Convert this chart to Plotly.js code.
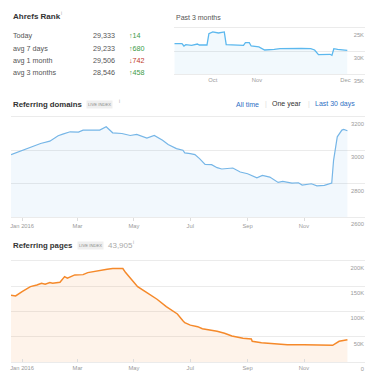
<!DOCTYPE html>
<html><head><meta charset="utf-8">
<script src="https://cdn.plot.ly/plotly-3.0.1.min.js"></script>
<style>html,body{margin:0;padding:0;background:#fff;}#chart{width:374px;height:379px;}</style>
</head><body><div id="chart"></div>
<script>
// ---------- DATA ----------
const rankLabels = ['Today', 'avg 7 days', 'avg 1 month', 'avg 3 months'];
const rankStats = ['29,333', '29,233', '29,506', '28,546'];
const rankChanges = ['14', '680', '742', '458'];
const rankChangeDir = ['up', 'up', 'down', 'up'];

const rankDates = ['2016-09-18','2016-09-22','2016-09-23','2016-09-24','2016-09-27','2016-09-30','2016-10-01','2016-10-05','2016-10-06','2016-10-08','2016-10-11','2016-10-14','2016-10-15','2016-10-19','2016-10-24','2016-10-25','2016-10-27','2016-10-28','2016-11-01','2016-11-04','2016-11-07','2016-11-09','2016-11-12','2016-11-18','2016-11-23','2016-11-28','2016-11-30','2016-12-02','2016-12-05','2016-12-08','2016-12-09','2016-12-10','2016-12-12','2016-12-17'];
const rankValues = [28390,28390,28890,28600,28740,28460,28670,28670,26230,25860,26080,25860,28600,28600,28740,28170,28170,28890,29100,29750,29750,29600,29470,29390,29390,29470,29750,30760,30760,30680,30900,29470,29600,29820];
const rankTickVals = ['2016-10-08', '2016-10-31', '2016-12-16'];
const rankTickText = ['Oct', 'Nov', 'Dec'];
const rankYTicks = [25000, 30000, 35000];
const rankYText = ['25K', '30K', '35K'];

const domainDates = ['2015-12-20','2015-12-30','2016-01-10','2016-01-21','2016-01-31','2016-02-09','2016-02-14','2016-02-22','2016-03-02','2016-03-07','2016-03-14','2016-03-25','2016-04-01','2016-04-08','2016-04-18','2016-04-27','2016-05-04','2016-05-15','2016-05-23','2016-06-01','2016-06-07','2016-06-16','2016-06-23','2016-06-25','2016-07-01','2016-07-06','2016-07-11','2016-07-17','2016-07-24','2016-07-30','2016-08-04','2016-08-10','2016-08-16','2016-08-24','2016-09-01','2016-09-11','2016-09-17','2016-09-25','2016-10-04','2016-10-09','2016-10-19','2016-10-26','2016-10-30','2016-11-09','2016-11-15','2016-11-23','2016-12-01','2016-12-03','2016-12-07','2016-12-12','2016-12-14','2016-12-18'];
const domainValues = [2974,2996,3016,3040,3054,3086,3096,3110,3108,3120,3120,3120,3140,3104,3100,3088,3094,3072,3088,3060,3034,3010,3000,2984,2980,2974,2950,2916,2914,2896,2888,2890,2894,2870,2860,2836,2850,2840,2808,2814,2804,2806,2792,2800,2788,2790,2804,2940,3080,3120,3124,3116];
const domainYTicks = [2600, 2800, 3000, 3200];
const domainYText = ['2600', '2800', '3000', '3200'];

const pageDates = ['2015-12-20','2015-12-25','2016-01-01','2016-01-10','2016-01-17','2016-01-22','2016-01-26','2016-01-31','2016-02-03','2016-02-11','2016-02-16','2016-02-19','2016-02-27','2016-03-07','2016-03-12','2016-03-22','2016-04-02','2016-04-08','2016-04-19','2016-04-22','2016-04-27','2016-04-30','2016-05-05','2016-05-15','2016-05-26','2016-06-05','2016-06-12','2016-06-17','2016-06-23','2016-06-25','2016-07-01','2016-07-09','2016-07-14','2016-07-24','2016-07-30','2016-08-07','2016-08-15','2016-08-27','2016-09-05','2016-09-06','2016-09-16','2016-09-30','2016-10-14','2016-11-01','2016-11-16','2016-12-02','2016-12-09','2016-12-18'];
const pageValues = [131800,130400,139000,148800,152000,155500,153500,156800,155500,157500,168600,165400,171900,172500,176500,180400,183200,184400,184400,176500,165400,158700,148800,136900,123900,109300,100800,94800,81600,77700,72800,69800,65800,63200,60600,56700,51400,46800,45400,40900,38200,36200,34200,34200,33000,33000,40900,43905];
const pageYTicks = [0, 50000, 100000, 150000, 200000];
const pageYText = ['0', '50K', '100K', '150K', '200K'];
const pagesTotal = '43,905';

const yearTickVals = ['2016-01-01','2016-03-01','2016-05-01','2016-07-01','2016-09-01','2016-11-01'];
const yearTickText = ['Jan 2016','Mar','May','Jul','Sep','Nov'];

// ---------- LAYOUT HELPERS ----------
const W = 374, H = 379;
const FONT = 'Liberation Sans, Arial, Helvetica, sans-serif';
const fx = p => p / W;
const fy = p => 1 - p / H;
const GRID = '#ebebeb';
const TICKFONT = {family: FONT, size: 5.8, color: '#9a9a9a'};

function ann(text, px, py, opts) {
  return Object.assign({
    text: text, x: fx(px), y: fy(py), xref: 'paper', yref: 'paper',
    xanchor: 'left', yanchor: 'middle', showarrow: false,
    font: {family: FONT, size: 7.2, color: '#555'}
  }, opts || {});
}

const annotations = [];
annotations.push(ann('<b>Ahrefs Rank</b>', 11, 17, {font: {family: FONT, size: 8, color: '#333'}}));
annotations.push(ann('i', 59, 13.5, {font: {family: FONT, size: 4.5, color: '#aaa'}}));
const rowY = [35.7, 48, 60.3, 72.3];
rankLabels.forEach((l, i) => {
  annotations.push(ann(l, 10.5, rowY[i]));
  annotations.push(ann(rankStats[i], 116.5, rowY[i], {xanchor: 'right'}));
  const up = rankChangeDir[i] === 'up';
  annotations.push(ann((up ? '\u2191' : '\u2193') + rankChanges[i], 127, rowY[i],
    {font: {family: FONT, size: 7.2, color: up ? '#3d9b47' : '#c0392b'}}));
});
annotations.push(ann('Past 3 months', 174, 17.3, {font: {family: FONT, size: 7, color: '#555'}}));

annotations.push(ann('<b>Referring domains</b>', 10.5, 104, {font: {family: FONT, size: 7.8, color: '#333'}}));
annotations.push(ann('LIVE INDEX', 86, 104, {font: {family: FONT, size: 4.2, color: '#8a8a8a'}, bgcolor: '#efefef', borderpad: 1}));
annotations.push(ann('i', 116.5, 101.5, {font: {family: FONT, size: 4.5, color: '#aaa'}}));
annotations.push(ann('All time', 233.5, 104, {font: {family: FONT, size: 7, color: '#2f6fc4'}}));
annotations.push(ann('|', 262.5, 104, {font: {family: FONT, size: 7, color: '#ddd'}}));
annotations.push(ann('One year', 270, 104, {font: {family: FONT, size: 7, color: '#333'}}));
annotations.push(ann('|', 306, 104, {font: {family: FONT, size: 7, color: '#ddd'}}));
annotations.push(ann('Last 30 days', 313, 104, {font: {family: FONT, size: 7, color: '#2f6fc4'}}));

annotations.push(ann('<b>Referring pages</b>', 11, 245, {font: {family: FONT, size: 7.8, color: '#333'}}));
annotations.push(ann('LIVE INDEX', 76.5, 245, {font: {family: FONT, size: 4.2, color: '#8a8a8a'}, bgcolor: '#efefef', borderpad: 1}));
annotations.push(ann(pagesTotal, 105.5, 245, {font: {family: FONT, size: 8, color: '#aaa'}}));
annotations.push(ann('i', 130.5, 242, {font: {family: FONT, size: 4.5, color: '#aaa'}}));

// ---------- TRACES ----------
const traces = [
  {x: [rankDates[0], rankDates[rankDates.length - 1]], y: [40000, 40000], xaxis: 'x3', yaxis: 'y3',
   mode: 'lines', line: {width: 0}, hoverinfo: 'skip', showlegend: false},
  {x: rankDates, y: rankValues, xaxis: 'x3', yaxis: 'y3', mode: 'lines', fill: 'tonexty',
   fillcolor: 'rgba(90,180,235,0.08)', line: {color: '#5cb8ee', width: 1.3}, showlegend: false},
  {x: domainDates, y: domainValues, xaxis: 'x', yaxis: 'y', mode: 'lines', fill: 'tozeroy',
   fillcolor: 'rgba(90,170,235,0.08)', line: {color: '#76b6e7', width: 1.2}, showlegend: false},
  {x: pageDates, y: pageValues, xaxis: 'x2', yaxis: 'y2', mode: 'lines', fill: 'tozeroy',
   fillcolor: 'rgba(248,150,60,0.11)', line: {color: '#f5892a', width: 1.5}, showlegend: false}
];

function xax(domainPx, range, tv, tt, anchor, ticks) {
  return {domain: [fx(domainPx[0]), fx(domainPx[1])], range: range, type: 'date', anchor: anchor,
    tickvals: tv, ticktext: tt, showgrid: false, zeroline: false,
    showline: true, mirror: true, linecolor: GRID, linewidth: 1,
    ticks: ticks, ticklen: 3, tickcolor: '#ddd', tickfont: TICKFONT, fixedrange: true};
}
function yax(domainPx, range, tv, tt, anchor, shift) {
  return {domain: [fy(domainPx[1]), fy(domainPx[0])], range: range, anchor: anchor, side: 'right',
    tickvals: tv, ticktext: tt, ticklabelposition: 'inside', ticklabeloverflow: 'allow',
    ticklabelshift: shift, ticklabelstandoff: -2, showgrid: true, gridcolor: GRID, gridwidth: 1, zeroline: false,
    showline: false, ticks: '', tickfont: TICKFONT, fixedrange: true};
}

const layout = {
  width: W, height: H, margin: {l: 0, r: 0, t: 0, b: 0, pad: 0},
  paper_bgcolor: '#fff', plot_bgcolor: '#fff', showlegend: false,
  font: {family: FONT},
  xaxis: xax([11, 365], ['2015-12-20', '2017-01-06'], yearTickVals, yearTickText, 'y', 'outside'),
  yaxis: yax([116.7, 217.3], [2600, 3200], domainYTicks, domainYText, 'x', 7),
  xaxis2: xax([11, 365], ['2015-12-20', '2017-01-06'], yearTickVals, yearTickText, 'y2', 'inside'),
  yaxis2: yax([260.7, 362], [0, 200000], pageYTicks, pageYText, 'x2', 7),
  xaxis3: xax([174.3, 365], ['2016-09-18', '2016-12-26 05:00'], rankTickVals, rankTickText, 'y3', ''),
  yaxis3: yax([28, 74.3], [35000, 25000], rankYTicks, rankYText, 'x3', -7),
  annotations: annotations
};

Plotly.newPlot('chart', traces, layout, {displayModeBar: false, staticPlot: true});
</script></body></html>
